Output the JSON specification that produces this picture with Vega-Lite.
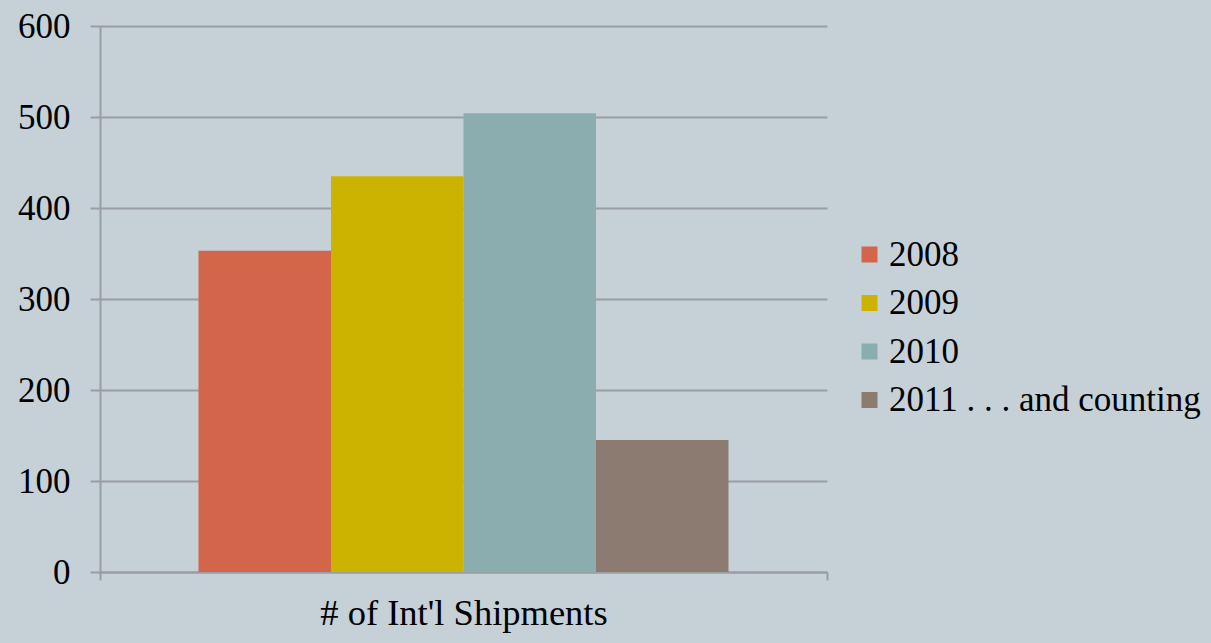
{
  "$schema": "https://vega.github.io/schema/vega-lite/v6.json",
  "width": 727,
  "height": 546,
  "autosize": "none",
  "padding": {"left": 100, "top": 26, "right": 384, "bottom": 71},
  "background": "#c5d1d7",
  "config": {
    "view": {"stroke": null},
    "font": "Liberation Serif"
  },
  "data": {
    "values": [
      {"category": "# of Int'l Shipments", "year": "2008", "value": 353},
      {"category": "# of Int'l Shipments", "year": "2009", "value": 435},
      {"category": "# of Int'l Shipments", "year": "2010", "value": 504},
      {"category": "# of Int'l Shipments", "year": "2011 . . . and counting", "value": 145}
    ]
  },
  "mark": {"type": "bar"},
  "encoding": {
    "x": {
      "field": "category",
      "type": "nominal",
      "scale": {"paddingInner": 0, "paddingOuter": 0},
      "axis": {
        "title": null,
        "labelAngle": 0,
        "labelFont": "Liberation Serif",
        "labelFontSize": 36.5,
        "labelColor": "#000000",
        "labelPadding": 15,
        "labelLimit": 600,
        "tickBand": "extent",
        "tickSize": 8,
        "tickColor": "#9a9da1",
        "tickWidth": 2,
        "domainColor": "#9a9da1",
        "domainWidth": 2,
        "grid": false
      }
    },
    "xOffset": {
      "field": "year",
      "type": "nominal",
      "scale": {"paddingInner": 0, "paddingOuter": 0.7434}
    },
    "y": {
      "field": "value",
      "type": "quantitative",
      "scale": {"domain": [0, 600], "nice": false},
      "axis": {
        "title": null,
        "values": [0, 100, 200, 300, 400, 500, 600],
        "labelFont": "Liberation Serif",
        "labelFontWeight": 500,
        "labelFontSize": 35,
        "labelColor": "#000000",
        "labelPadding": 20,
        "tickSize": 10,
        "tickColor": "#9a9da1",
        "tickWidth": 2,
        "domainColor": "#9a9da1",
        "domainWidth": 2,
        "grid": true,
        "gridColor": "#9a9da1",
        "gridWidth": 2
      }
    },
    "color": {
      "field": "year",
      "type": "nominal",
      "scale": {
        "domain": ["2008", "2009", "2010", "2011 . . . and counting"],
        "range": ["#d2654a", "#ccb300", "#8badaf", "#8c7b70"]
      },
      "legend": {
        "title": null,
        "orient": "none",
        "legendX": 752,
        "legendY": 211,
        "symbolType": "square",
        "symbolSize": 256,
        "symbolStrokeWidth": 0,
        "symbolOpacity": 1,
        "labelFont": "Liberation Serif",
        "labelFontWeight": 500,
        "labelFontSize": 35,
        "labelColor": "#000000",
        "labelOffset": 2,
        "rowPadding": 12.5,
        "labelLimit": 400
      }
    }
  }
}
